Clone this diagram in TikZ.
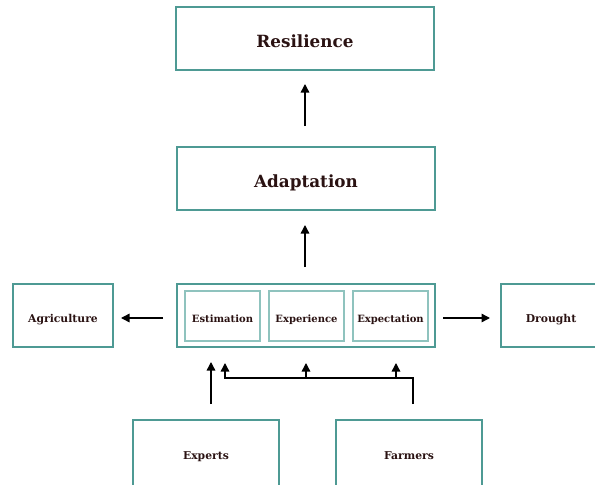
\documentclass[tikz,border=0pt]{standalone}
\usepackage{fontspec}
\setmainfont{DejaVu Serif}
\usetikzlibrary{arrows.meta}
\definecolor{boxteal}{HTML}{4E9A94}
\definecolor{innerteal}{HTML}{8FC3BE}
\definecolor{txt}{HTML}{2A1212}
\tikzset{
  box/.style={draw=boxteal, line width=1.6pt, fill=white, text=txt, font=\bfseries, text depth=0pt},
  bigtxt/.style={font=\bfseries\fontsize{16.8}{19}\selectfont, text height=18pt},
  midtxt/.style={font=\bfseries\fontsize{10.8}{13}\selectfont},
  lowtxt/.style={text height=13.5pt},
  inner/.style={draw=innerteal, line width=1.3pt, text=txt, text depth=0pt, text height=13pt, font=\bfseries\fontsize{10}{12}\selectfont},
  conn/.style={line width=1.4pt, -{Triangle[length=8.5pt,width=8.5pt]}}
}
\begin{document}
\begin{tikzpicture}[x=1pt,y=-1pt]
\useasboundingbox (0,0) rectangle (595,485);
% top boxes
\node[box, bigtxt, minimum width=258pt, minimum height=63pt] (res) at (305,38.5) {Resilience};
\node[box, bigtxt, minimum width=258pt, minimum height=63pt] (ada) at (306,178.5) {Adaptation};
% container
\node[box, minimum width=258pt, minimum height=63pt] (cont) at (306,315.5) {};
\node[inner, minimum width=75pt, minimum height=50pt] (est) at (222.5,316) {Estimation};
\node[inner, minimum width=75pt, minimum height=50pt] (exp) at (306.5,316) {Experience};
\node[inner, minimum width=75pt, minimum height=50pt] (expc) at (390.5,316) {Expectation};
% side boxes
\node[box, midtxt, lowtxt, minimum width=100pt, minimum height=63pt] (agr) at (63,315.5) {Agriculture};
\node[box, midtxt, lowtxt, minimum width=100pt, minimum height=63pt] (dro) at (551,315.5) {Drought};
% bottom boxes
\node[box, midtxt, minimum width=146pt, minimum height=72pt] (expt) at (206,456) {Experts};
\node[box, midtxt, minimum width=146pt, minimum height=72pt] (farm) at (409,456) {Farmers};
% arrows
\coordinate (a1) at (305,126);
\coordinate (a1t) at (305,84);
\draw[conn] (a1) -- (a1t);
\coordinate (a2) at (305,267);
\coordinate (a2t) at (305,225);
\draw[conn] (a2) -- (a2t);
\coordinate (l1) at (163,318);
\coordinate (l1t) at (121,318);
\draw[conn] (l1) -- (l1t);
\coordinate (r1) at (443,318);
\coordinate (r1t) at (490,318);
\draw[conn] (r1) -- (r1t);
% experts
\coordinate (e0) at (211,404);
\coordinate (e1) at (211,362);
\draw[conn] (e0) -- (e1);
% farmers
\coordinate (f0) at (413,404);
\coordinate (f1) at (413,378);
\coordinate (f2) at (225,378);
\coordinate (f3) at (225,363);
\coordinate (m0) at (306,378);
\coordinate (m1) at (306,363);
\coordinate (n0) at (396,378);
\coordinate (n1) at (396,363);
\draw[conn] (f0) -- (f1) -- (f2) -- (f3);
\draw[conn] (m0) -- (m1);
\draw[conn] (n0) -- (n1);
\end{tikzpicture}
\end{document}
